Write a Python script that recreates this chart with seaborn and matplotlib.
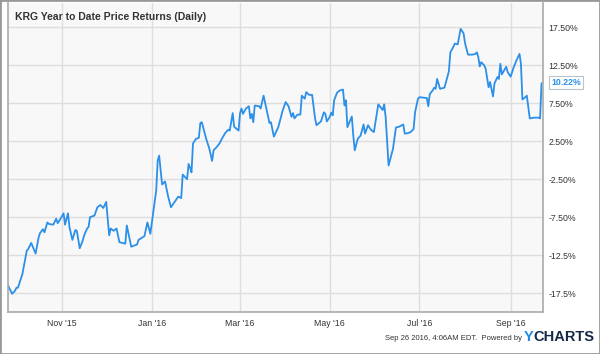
import pandas as pd
import matplotlib.pyplot as plt
import seaborn as sns
from matplotlib.patches import Rectangle

# Data: day offset from the first trading day, return in %
start_date = "2015-09-25"
day_offsets = [0, 3, 5, 6, 7, 10, 13, 14, 16, 19, 21, 22, 24, 25, 27, 28, 31, 33, 34, 36,
               38, 39, 41, 42, 44, 46, 47, 49, 51, 52, 54, 55, 56, 59, 61, 63, 65, 67, 69, 70,
               72, 74, 76, 80, 81, 84, 88, 89, 93, 95, 97, 99, 101, 102, 103, 105, 107, 109, 111, 116,
               118, 119, 122, 123, 124, 125, 126, 128, 130, 131, 132, 135, 137, 139, 140, 142, 144, 146, 148, 150,
               151, 153, 154, 157, 158, 159, 160, 162, 164, 165, 166, 167, 168, 171, 172, 174, 175, 178, 179, 181,
               184, 187, 189, 191, 193, 194, 195, 197, 199, 200, 202, 203, 205, 207, 209, 210, 213, 215, 216, 217,
               219, 220, 221, 222, 224, 226, 228, 229, 230, 231, 234, 235, 236, 238, 240, 242, 243, 245, 247, 249,
               252, 255, 256, 257, 259, 262, 264, 266, 269, 270, 272, 274, 276, 277, 279, 280, 284, 285, 286, 287,
               289, 290, 291, 292, 294, 297, 300, 301, 303, 304, 306, 308, 310, 311, 313, 316, 318, 319, 320, 321,
               322, 324, 325, 327, 328, 330, 331, 333, 334, 335, 336, 339, 340, 342, 344, 346, 348, 349, 350, 352,
               353, 355, 358, 361, 362, 363, 364]
returns_pct = [-16.4, -17.6, -17.2, -16.8, -16.8, -15.0, -11.9, -11.7, -10.9, -12.3, -10.2, -9.6, -9.1, -9.5, -8.2, -8.4, -8.5, -7.7, -8.3, -7.7,
               -7.0, -8.5, -7.0, -8.8, -10.5, -9.2, -9.3, -11.6, -10.6, -9.9, -9.0, -8.8, -7.5, -7.3, -6.2, -5.9, -6.3, -5.5, -9.9, -9.0,
               -9.3, -9.0, -10.8, -11.0, -8.6, -11.4, -11.1, -10.5, -10.0, -8.2, -9.7, -6.9, -4.0, -0.05, 0.6, -3.2, -2.8, -4.7, -6.2, -4.8,
               -5.0, -1.9, -2.5, -0.5, -1.0, -1.6, 2.2, 2.8, 2.95, 4.9, 5.0, 2.8, 1.6, -0.1, 1.3, 1.7, 2.2, 2.95, 3.6, 4.0,
               3.9, 6.2, 4.4, 3.9, 6.2, 6.8, 6.1, 6.8, 7.1, 5.5, 6.1, 5.0, 7.2, 7.1, 6.8, 8.5, 7.6, 4.9, 5.0, 3.1,
               4.35, 6.55, 7.65, 7.1, 5.7, 6.2, 5.5, 6.0, 6.0, 8.5, 8.1, 8.96, 8.6, 8.6, 5.5, 4.6, 5.1, 6.3, 6.1, 5.1,
               5.7, 6.25, 5.9, 7.9, 8.9, 9.2, 9.3, 7.2, 7.9, 4.35, 5.75, 3.25, 1.3, 2.8, 3.25, 4.7, 3.5, 4.6, 4.0, 3.7,
               7.35, 6.6, 7.35, 5.7, -0.7, 1.5, 4.3, 4.4, 4.7, 3.5, 3.55, 3.7, 4.1, 6.3, 8.1, 8.3, 8.2, 8.2, 7.1, 8.7,
               9.2, 9.55, 9.4, 10.7, 9.4, 9.55, 11.7, 14.2, 14.9, 15.35, 15.25, 17.3, 16.7, 15.4, 13.9, 13.9, 14.0, 14.2, 13.6, 12.35,
               12.9, 12.5, 12.05, 9.6, 10.3, 8.4, 10.1, 10.95, 10.7, 12.7, 11.3, 12.3, 11.6, 11.0, 12.2, 13.15, 14.0, 12.7, 8.0, 8.3,
               8.5, 5.5, 5.6, 5.6, 5.5, 10.1, 10.22]

y_ticks = [17.5, 12.5, 7.5, 2.5, -2.5, -7.5, -12.5, -17.5]
y_tick_labels = ["17.50%", "12.50%", "7.50%", "2.50%", "-2.50%", "-7.50%", "-12.5%", "-17.5%"]
month_ticks = ["2015-11-01", "2016-01-01", "2016-03-01", "2016-05-01", "2016-07-01", "2016-09-01"]
month_labels = ["Nov '15", "Jan '16", "Mar '16", "May '16", "Jul '16", "Sep '16"]
last_label = "10.22%"

df = pd.DataFrame({
    "date": pd.Timestamp(start_date) + pd.to_timedelta(day_offsets, unit="D"),
    "ret": returns_pct,
})

sns.set_theme(style="white")
plt.rcParams['font.family'] = ['Liberation Sans', 'DejaVu Sans']

fig = plt.figure(figsize=(6, 3.54), dpi=100)
ax = fig.add_axes([0.0128, 0.1186, 0.8922, 0.8729])
ax.set_facecolor('#f8f8f8')

sns.lineplot(data=df, x="date", y="ret", ax=ax, color="#2c8fe8", lw=1.3)

ax.set_xlim(df["date"].iloc[0], df["date"].iloc[-1])
ax.set_ylim(-20.0, 20.7)

# right-hand y axis like YCharts
ax.yaxis.tick_right()
ax.set_yticks(y_ticks)
ax.set_yticklabels(y_tick_labels, fontsize=6.3, color='#333333')
ax.set_xticks(pd.to_datetime(month_ticks))
ax.set_xticklabels(month_labels, fontsize=6.3, color='#333333')
ax.tick_params(axis='both', length=0)
ax.tick_params(axis='y', pad=4)
ax.tick_params(axis='x', pad=5)
ax.set_xlabel('')
ax.set_ylabel('')

ax.grid(True, color='#dedede', lw=1)
for side in ['left', 'right', 'bottom']:
    ax.spines[side].set_color('#aaaaaa')
    ax.spines[side].set_linewidth(1.2)
ax.spines['top'].set_visible(False)

# title inside the plot area
fig.text(15 / 600, 1 - 17 / 354, "KRG Year to Date Price Returns (Daily)",
         fontsize=7.5, fontweight='bold', color='#333333', va='center')

# last value flag
ax.annotate(last_label, xy=(1.0, 10.22), xycoords=('axes fraction', 'data'),
            xytext=(6, 0), textcoords='offset points', va='center', ha='left',
            fontsize=6.3, fontweight='bold', color='#2c8fe8',
            bbox=dict(boxstyle='square,pad=0.25', fc='white', ec='#b8c4cc', lw=0.8))

# footer
fig.text(522 / 600, 1 - 339 / 354, "Sep 26 2016, 4:06AM EDT.  Powered by",
         fontsize=5.5, color='#333333', ha='right', va='center')
fig.text(524 / 600, 1 - 337 / 354, "Y", fontsize=10.5, fontweight='bold',
         color='#1e8be6', ha='left', va='center')
fig.text(533 / 600, 1 - 337 / 354, "CHARTS", fontsize=10.5, fontweight='bold',
         color='#14294a', ha='left', va='center')

# outer frame
fig.patches.append(Rectangle((0, 0), 1, 1, transform=fig.transFigure, fill=False,
                             edgecolor='#999999', lw=2))

plt.savefig('out.png', dpi=100)
